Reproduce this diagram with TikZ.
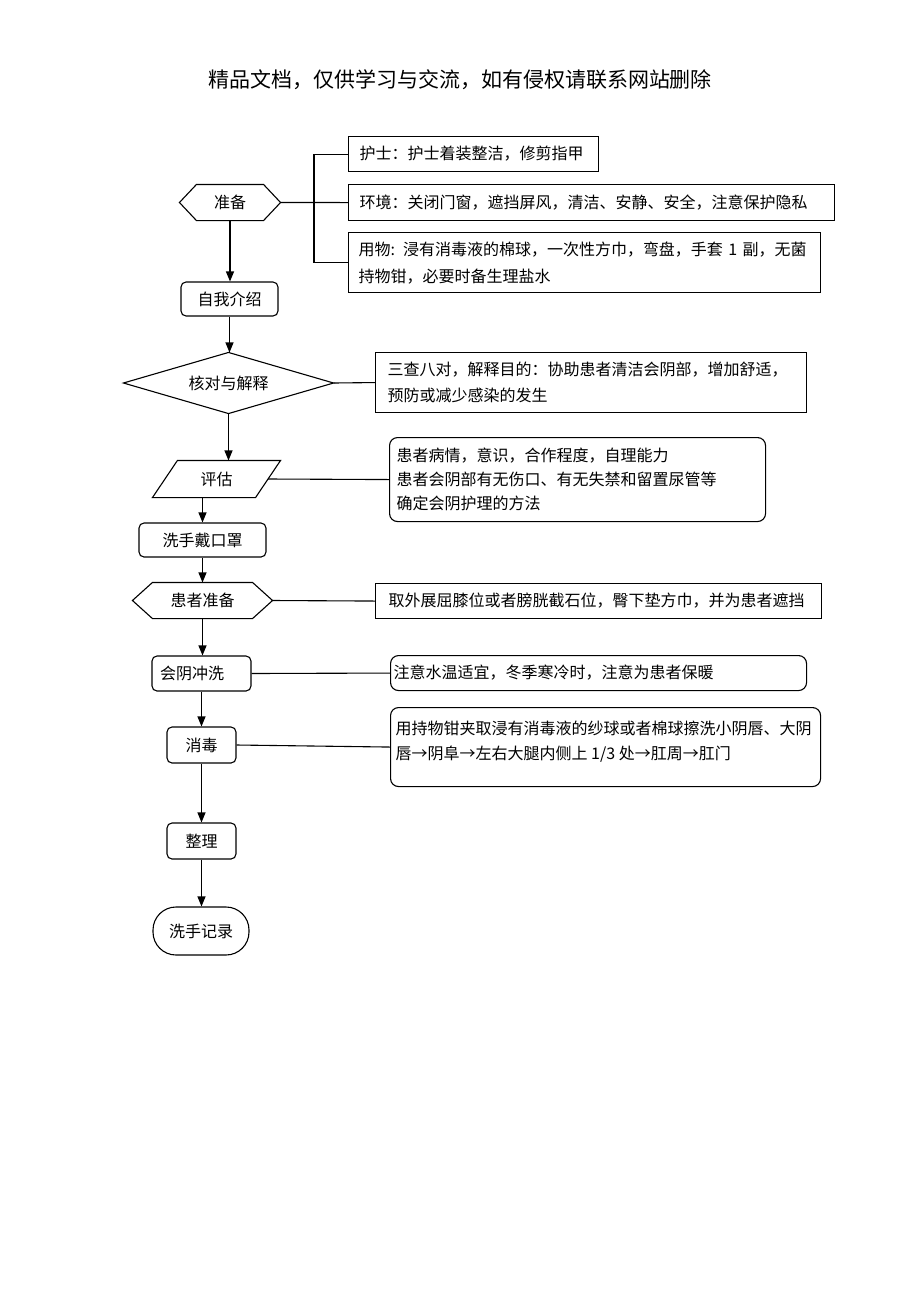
\documentclass[tikz,border=0pt]{standalone}
\usepackage{fontspec}
\setmainfont{Noto Sans CJK SC}
\usetikzlibrary{arrows.meta}
\begin{document}
\begin{tikzpicture}[x=1pt,y=-1pt,line width=1.1pt,
  txt/.style={font=\fontsize{16}{26}\selectfont},
  box/.style={draw,txt,align=left,inner xsep=11pt,inner ysep=0pt,anchor=north west},
  rbox/.style={box,rounded corners=8pt},
  flow/.style={txt,inner sep=0pt,anchor=center},
  rflow/.style={flow,draw,rounded corners=5pt},
  arr/.style={-{Triangle[length=10pt,width=8pt]}},
]
\useasboundingbox (0,0) rectangle (920,1302);

\node[font=\fontsize{21}{21}\selectfont] (title) at (460,80) {精品文档，仅供学习与交流，如有侵权请联系网站删除};

% main flow
\node[flow,minimum width=100pt,minimum height=35pt] (prep) at (230,202.5) {准备};
\draw (prep.west) -- ([xshift=17pt]prep.north west) -- ([xshift=-17pt]prep.north east) -- (prep.east) -- ([xshift=-17pt]prep.south east) -- ([xshift=17pt]prep.south west) -- cycle;

\node[rflow,minimum width=97pt,minimum height=34pt] (intro) at (229.5,299) {自我介绍};

\node[flow,minimum width=209pt,minimum height=60pt] (check) at (228.5,383) {核对与解释};
\draw (check.west) -- (check.north) -- (check.east) -- (check.south) -- cycle;

\node[flow,minimum width=127pt,minimum height=36pt] (eval) at (216.5,479) {评估};
\draw ([xshift=25pt]eval.north west) -- (eval.north east) -- ([xshift=-25pt]eval.south east) -- (eval.south west) -- cycle;

\node[rflow,minimum width=127pt,minimum height=34pt] (wash) at (202.5,540) {洗手戴口罩};

\node[flow,minimum width=139pt,minimum height=35pt] (pprep) at (202.5,600.5) {患者准备};
\draw (pprep.west) -- ([xshift=20pt]pprep.north west) -- ([xshift=-20pt]pprep.north east) -- (pprep.east) -- ([xshift=-20pt]pprep.south east) -- ([xshift=20pt]pprep.south west) -- cycle;

\node[rflow,align=left,text width=83pt,inner xsep=8pt,minimum height=35pt] (rinse) at (201.5,673.5) {会阴冲洗};

\node[rflow,minimum width=69pt,minimum height=36pt] (disinf) at (201.5,745) {消毒};

\node[rflow,minimum width=69pt,minimum height=36pt] (tidy) at (201.5,841) {整理};

\node[flow,draw,rounded corners=23pt,minimum width=96pt,minimum height=48pt] (record) at (201,931) {洗手记录};

% arrows
\draw[arr] (prep.south) -- (prep.south |- intro.north);
\draw[arr] (intro.south) -- (intro.south |- check.north);
\draw[arr] (check.south) -- (check.south |- eval.north);
\draw[arr] (wash.north |- eval.south) -- (wash.north);
\draw[arr] (wash.south) -- (wash.south |- pprep.north);
\draw[arr] (pprep.south) -- (pprep.south |- rinse.north);
\draw[arr] (rinse.south) -- (rinse.south |- disinf.north);
\draw[arr] (disinf.south) -- (tidy.north);
\draw[arr] (tidy.south) -- (tidy.south |- record.north);

% side boxes
\node[box,text width=228pt,minimum height=35pt] (nurse) at (348,136) {护士：护士着装整洁，修剪指甲};
\node[box,text width=464pt,minimum height=36pt] (env) at (348,184) {环境：关闭门窗，遮挡屏风，清洁、安静、安全，注意保护隐私};
\node[box,text width=452pt,inner xsep=10pt,minimum height=60pt,font=\fontsize{16}{27}\selectfont] (item) at (348,232) {用物: 浸有消毒液的棉球，一次性方巾，弯盘，手套 1 副，无菌\\持物钳，必要时备生理盐水};
\draw (nurse.west) -- ++(-34pt,0) |- (item.west);
\draw (prep.east) -- (env.west);

\node[box,text width=407pt,inner xsep=12pt,minimum height=60pt] (explain) at (375,352) {三查八对，解释目的：协助患者清洁会阴部，增加舒适，\\预防或减少感染的发生};
\draw (check.east) -- (explain.west);

\node[rbox,text width=362pt,inner xsep=7pt,minimum height=84pt,font=\fontsize{16}{24}\selectfont] (assess) at (389,437) {患者病情，意识，合作程度，自理能力\\患者会阴部有无伤口、有无失禁和留置尿管等\\确定会阴护理的方法};
\draw ([xshift=-12.5pt]eval.east) -- (assess.west);

\node[box,text width=420pt,inner xsep=13pt,minimum height=35pt] (pos) at (375,583) {取外展屈膝位或者膀胱截石位，臀下垫方巾，并为患者遮挡};
\draw (pprep.east) -- (pos.west);

\node[rbox,text width=410pt,inner xsep=3pt,minimum height=35pt] (warm) at (390,655) {注意水温适宜，冬季寒冷时，注意为患者保暖};
\draw (rinse.east) -- (warm.west);

\node[draw,rounded corners=8pt,anchor=north west,minimum width=430pt,minimum height=79pt,inner sep=0pt] (disbox) at (390,707) {};
\node[txt,font=\fontsize{16}{25}\selectfont,align=left,anchor=north west,inner sep=0pt] (distext) at ([xshift=5pt,yshift=-13pt]disbox.north west) {用持物钳夹取浸有消毒液的纱球或者棉球擦洗小阴唇、大阴\\唇→阴阜→左右大腿内侧上 1/3 处→肛周→肛门};
\draw (disinf.east) -- (disbox.west);
\end{tikzpicture}
\end{document}
